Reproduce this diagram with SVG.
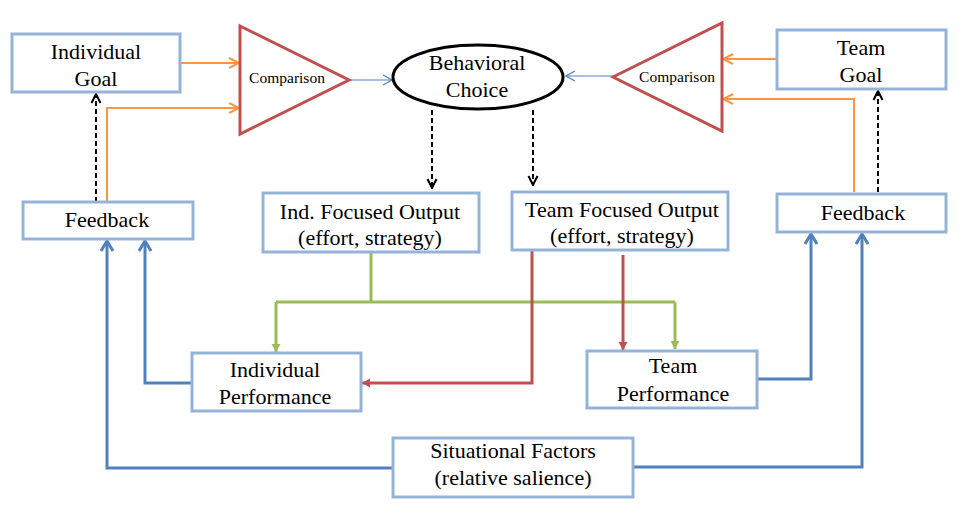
<svg xmlns="http://www.w3.org/2000/svg" width="972" height="528" viewBox="0 0 972 528">
<style>
.box{fill:#fff;stroke:#95B3D7;stroke-width:3}
.tri{fill:#fff;stroke:#C0504D;stroke-width:3;stroke-linejoin:miter}
.t{font-family:"Liberation Serif","Times New Roman",serif;font-size:22px;fill:#000;text-anchor:middle}
.s{font-family:"Liberation Serif","Times New Roman",serif;font-size:15.5px;fill:#000;text-anchor:middle}
.or{fill:none;stroke:#F79646;stroke-width:2;marker-end:url(#oa)}
.bt{fill:none;stroke:#4F81BD;stroke-width:1.2;marker-end:url(#ba)}
.dk{fill:none;stroke:#000;stroke-width:2;stroke-dasharray:5 3;marker-end:url(#ka)}
.gr{fill:none;stroke:#9BBB59;stroke-width:3}
.grA{marker-end:url(#ga)}
.rd{fill:none;stroke:#C0504D;stroke-width:3;marker-end:url(#ra)}
.bl{fill:none;stroke:#4F81BD;stroke-width:3;marker-end:url(#la)}
</style>
<defs>
<marker id="oa" markerUnits="userSpaceOnUse" viewBox="0 0 12 12" markerWidth="12" markerHeight="12" refX="11" refY="6" orient="auto"><path d="M1,1 L11,6 L1,11" fill="none" stroke="#F79646" stroke-width="2"/></marker>
<marker id="ba" markerUnits="userSpaceOnUse" viewBox="0 0 12 12" markerWidth="12" markerHeight="12" refX="11" refY="6" orient="auto"><path d="M2,1 L11,6 L2,11" fill="none" stroke="#4F81BD" stroke-width="1.2"/></marker>
<marker id="ka" markerUnits="userSpaceOnUse" viewBox="0 0 12 12" markerWidth="12" markerHeight="12" refX="11" refY="6" orient="auto"><path d="M2,1.5 L11,6 L2,10.5" fill="none" stroke="#000" stroke-width="2"/></marker>
<marker id="ga" markerUnits="userSpaceOnUse" viewBox="0 0 10 10" markerWidth="10" markerHeight="10" refX="9" refY="5" orient="auto"><path d="M1,0.5 L9,5 L1,9.5 Z" fill="#9BBB59"/></marker>
<marker id="ra" markerUnits="userSpaceOnUse" viewBox="0 0 10 10" markerWidth="10" markerHeight="10" refX="9" refY="5" orient="auto"><path d="M1,0.5 L9,5 L1,9.5 Z" fill="#C0504D"/></marker>
<marker id="la" markerUnits="userSpaceOnUse" viewBox="0 0 14 14" markerWidth="14" markerHeight="14" refX="12" refY="7" orient="auto"><path d="M2,1 L12,7 L2,13" fill="none" stroke="#4F81BD" stroke-width="3"/></marker>
</defs>
<rect width="972" height="528" fill="#fff"/>
<g id="connectors">
<path class="or" d="M180,63 H239"/>
<path class="or" d="M107,202 V108 H239"/>
<path class="or" d="M777,59 H723"/>
<path class="or" d="M854,192 V99 H723"/>
<path class="bt" d="M350,80 H392"/>
<path class="bt" d="M613,76 H566"/>
<path class="dk" d="M96,202 V94"/>
<path class="dk" d="M878,192 V91"/>
<path class="dk" d="M432,110 V188"/>
<path class="dk" d="M533,110 V185"/>
<path class="gr" d="M371,252 V302"/>
<path class="gr" d="M276,302 H675"/>
<path class="gr grA" d="M276,302 V352"/>
<path class="gr grA" d="M675,302 V349"/>
<path class="rd" d="M532,250 V383 H362"/>
<path class="rd" d="M623,255 V350"/>
<path class="bl" d="M192,383 H145 V241"/>
<path class="bl" d="M393,468 H107 V241"/>
<path class="bl" d="M757,379 H811 V234"/>
<path class="bl" d="M633,467 H862 V234"/>
</g>
<g id="individual-goal"><rect class="box" x="12" y="34" width="168" height="58"/><text class="t" x="96" y="59">Individual</text><text class="t" x="96" y="86">Goal</text></g>
<g id="comparison-left"><polygon class="tri" points="240,26 349,80 240,134"/><text class="s" x="287" y="83">Comparison</text></g>
<g id="behavioral-choice"><ellipse cx="478" cy="77" rx="85" ry="32" fill="#fff" stroke="#000" stroke-width="3"/><text class="t" x="477" y="70">Behavioral</text><text class="t" x="477" y="97">Choice</text></g>
<g id="comparison-right"><polygon class="tri" points="613,77 722,23 722,131"/><text class="s" x="677" y="82">Comparison</text></g>
<g id="team-goal"><rect class="box" x="777" y="30" width="169" height="59"/><text class="t" x="861" y="55">Team</text><text class="t" x="861" y="82">Goal</text></g>
<g id="feedback-left"><rect class="box" x="23" y="202" width="170" height="37"/><text class="t" x="107" y="227">Feedback</text></g>
<g id="ind-focused-output"><rect class="box" x="263" y="193" width="216" height="59"/><text class="t" x="370" y="219">Ind.  Focused Output</text><text class="t" x="370" y="245">(effort,  strategy)</text></g>
<g id="team-focused-output"><rect class="box" x="512" y="192" width="216" height="58"/><text class="t" x="622" y="217">Team Focused Output</text><text class="t" x="622" y="243">(effort,  strategy)</text></g>
<g id="feedback-right"><rect class="box" x="777" y="194" width="169" height="38"/><text class="t" x="863" y="220">Feedback</text></g>
<g id="individual-performance"><rect class="box" x="192" y="353" width="169" height="58"/><text class="t" x="275" y="377">Individual</text><text class="t" x="275" y="404">Performance</text></g>
<g id="team-performance"><rect class="box" x="587" y="351" width="170" height="57"/><text class="t" x="673" y="373">Team</text><text class="t" x="673" y="401">Performance</text></g>
<g id="situational-factors"><rect class="box" x="393" y="438" width="240" height="59"/><text class="t" x="513" y="458">Situational  Factors</text><text class="t" x="513" y="485">(relative  salience)</text></g>
</svg>
